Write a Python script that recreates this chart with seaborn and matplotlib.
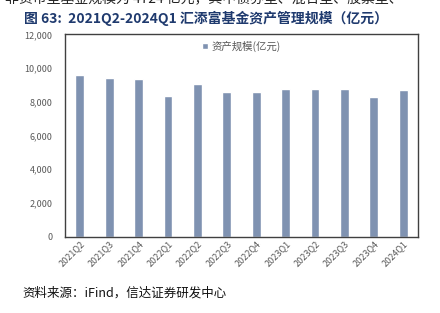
import matplotlib
matplotlib.use("Agg")
import matplotlib.pyplot as plt
import seaborn as sns
import pandas as pd
from matplotlib.ticker import FuncFormatter

quarters = ["2021Q2", "2021Q3", "2021Q4", "2022Q1", "2022Q2", "2022Q3",
            "2022Q4", "2023Q1", "2023Q2", "2023Q3", "2023Q4", "2024Q1"]
values = [9580, 9440, 9340, 8370, 9060, 8570, 8570, 8750, 8750, 8750, 8310, 8724]
series_name = "资产规模(亿元)"
title_text = "图 63:  2021Q2-2024Q1 汇添富基金资产管理规模（亿元）"
source_text = "资料来源：iFind，信达证券研发中心"
top_text = "非货币型基金规模为 4724 亿元，其中债券型、混合型、股票型、"

sns.set_theme(style="white")
plt.rcParams['font.family'] = ['Noto Sans CJK SC', 'DejaVu Sans']

df = pd.DataFrame({"季度": quarters, "规模": values})

fig = plt.figure(figsize=(4.4, 3.13), dpi=100)
ax = fig.add_axes([0.1477, 0.2444, 0.8023, 0.6454])

sns.barplot(data=df, x="季度", y="规模", color="#7F92B1", saturation=1,
            width=0.3, ax=ax, label=series_name)

ax.set_ylim(0, 12000)
ax.set_xlim(-0.5, len(quarters) - 0.5)
ax.set_yticks(range(0, 12001, 2000))
ax.yaxis.set_major_formatter(FuncFormatter(lambda v, p: f"{int(v):,}"))
ax.set_xlabel("")
ax.set_ylabel("")
ax.tick_params(axis='y', labelsize=6.5, colors="#595959", length=0, pad=9)
ax.tick_params(axis='x', labelsize=6.5, colors="#595959", length=0, pad=2)
for lbl in ax.get_xticklabels():
    lbl.set_rotation(45)
    lbl.set_ha('right')
    lbl.set_rotation_mode('anchor')
for s in ax.spines.values():
    s.set_visible(True)
    s.set_color("#404040")
    s.set_linewidth(1.0)

leg = ax.legend(loc="upper center", bbox_to_anchor=(0.5, 1.0), frameon=False,
                fontsize=7.5, handlelength=0.6, handleheight=0.6,
                handletextpad=0.3, borderaxespad=0.2)
for t in leg.get_texts():
    t.set_color("#595959")

fig.text(24 / 440, 1 - 18 / 313, title_text, fontsize=10, fontweight='bold',
         color="#1F3A6E", ha='left', va='center')
fig.text(5 / 440, 1 + 1 / 313, top_text, fontsize=10, color="#222222",
         ha='left', va='center')
fig.text(22 / 440, 1 - 293 / 313, source_text, fontsize=9, style='italic',
         color="#111111", ha='left', va='center')

fig.savefig("out.png", dpi=100)
